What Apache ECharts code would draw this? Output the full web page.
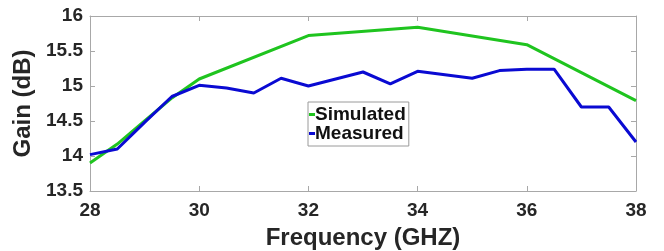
<!DOCTYPE html>
<html>
<head>
<meta charset="utf-8">
<script src="https://cdn.jsdelivr.net/npm/echarts@6/dist/echarts.min.js"></script>
<style>
  html, body { margin: 0; padding: 0; background: #fff; }
  #chart { width: 664px; height: 251px; }
</style>
</head>
<body>
<div id="chart"></div>
<script>
"use strict"
const simFreq = [28, 28.5, 29, 29.5, 30, 32, 34, 36, 38];
const simGain = [13.9, 14.17, 14.5, 14.83, 15.1, 15.72, 15.84, 15.59, 14.79];
const measFreq = [28, 28.5, 29, 29.5, 30, 30.5, 31, 31.5, 32, 33, 33.5, 34, 35, 35.5, 36, 36.5, 37, 37.5, 38];
const measGain = [14.02, 14.1, 14.48, 14.85, 15.01, 14.97, 14.9, 15.11, 15.0, 15.2, 15.03, 15.21, 15.11, 15.22, 15.24, 15.24, 14.7, 14.7, 14.2];
const xTicks = [28, 30, 32, 34, 36, 38];
const yTicks = [13.5, 14, 14.5, 15, 15.5, 16];

const font = 'Liberation Sans, Arial, sans-serif';
const axisGrey = '#a8a8a8';
const labelColor = '#262626';

let chart = echarts.init(document.getElementById('chart'));

function pairs(xs, ys) {
    return xs.map(function (x, i) { return [x, ys[i]]; });
}

let sideAxis = {
    axisLine: { show: true, lineStyle: { color: axisGrey, width: 1 } },
    axisTick: { show: true, inside: true, length: 5, lineStyle: { color: axisGrey } },
    axisLabel: { show: false },
    splitLine: { show: false }
};

chart.setOption({
    animation: false,
    grid: { left: 90, right: 28, top: 16, bottom: 60, outerBoundsMode: 'none', containLabel: false },
    legend: {
        orient: 'vertical',
        left: 308,
        top: 102,
        padding: [3, 3, 3, 1],
        itemGap: 0,
        itemWidth: 6,
        itemHeight: 3,
        icon: 'rect',
        backgroundColor: '#fff',
        borderColor: '#9a9a9a',
        borderWidth: 1,
        textStyle: { fontFamily: font, fontWeight: 'bold', fontSize: 19, lineHeight: 14, color: '#111', padding: [0, 0, 0, -5] },
        data: ['Simulated', 'Measured']
    },
    xAxis: [{
        type: 'value',
        min: 28, max: 38, interval: 2,
        name: 'Frequency (GHZ)',
        nameLocation: 'middle',
        nameGap: 35,
        nameTextStyle: { fontFamily: font, fontWeight: 'bold', fontSize: 24, color: labelColor },
        axisLine: { show: true, lineStyle: { color: axisGrey, width: 1 } },
        axisTick: { show: true, inside: true, length: 5, lineStyle: { color: axisGrey } },
        axisLabel: {
            fontFamily: font, fontWeight: 'bold', fontSize: 19, color: labelColor, margin: 10,
            formatter: function (v) { return xTicks.indexOf(v) >= 0 ? String(v) : ''; }
        },
        splitLine: { show: false }
    }, Object.assign({ type: 'value', position: 'top', min: 28, max: 38, interval: 2 }, sideAxis)],
    yAxis: [{
        type: 'value',
        min: 13.5, max: 16, interval: 0.5,
        name: 'Gain (dB)',
        nameLocation: 'middle',
        nameGap: 50,
        nameTextStyle: { fontFamily: font, fontWeight: 'bold', fontSize: 24, color: labelColor },
        axisLine: { show: true, lineStyle: { color: axisGrey, width: 1 } },
        axisTick: { show: true, inside: true, length: 5, lineStyle: { color: axisGrey } },
        axisLabel: {
            fontFamily: font, fontWeight: 'bold', fontSize: 19, color: labelColor, margin: 7,
            formatter: function (v) { return yTicks.indexOf(v) >= 0 ? String(v) : ''; }
        },
        splitLine: { show: false }
    }, Object.assign({ type: 'value', position: 'right', min: 13.5, max: 16, interval: 0.5 }, sideAxis)],
    series: [{
        name: 'Simulated',
        type: 'line',
        data: pairs(simFreq, simGain),
        showSymbol: false,
        color: '#1fc41f',
        lineStyle: { width: 3, color: '#1fc41f' }
    }, {
        name: 'Measured',
        type: 'line',
        data: pairs(measFreq, measGain),
        showSymbol: false,
        color: '#0a0ad2',
        lineStyle: { width: 3, color: '#0a0ad2' }
    }]
});
</script>
</body>
</html>
